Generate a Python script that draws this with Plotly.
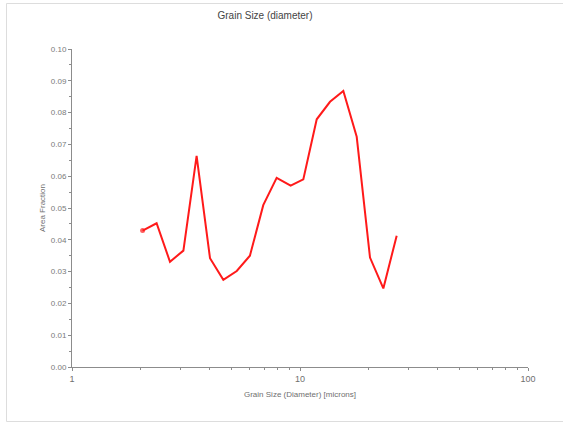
import plotly.graph_objects as go

grain_size = [2.04, 2.35, 2.69, 3.08, 3.52, 4.03, 4.61, 5.28, 6.03, 6.90,
              7.90, 9.10, 10.34, 11.84, 13.54, 15.49, 17.73, 20.28, 23.2, 26.55]
area_fraction = [0.0429, 0.0452, 0.0331, 0.0366, 0.0664, 0.0342, 0.0274, 0.0302, 0.0350, 0.0509,
                 0.0595, 0.0570, 0.0590, 0.0779, 0.0834, 0.0868, 0.0724, 0.0344, 0.0247, 0.0413]
y_ticks = [0.00, 0.01, 0.02, 0.03, 0.04, 0.05, 0.06, 0.07, 0.08, 0.09, 0.10]
y_tick_text = ["0.00", "0.01", "0.02", "0.03", "0.04", "0.05", "0.06", "0.07", "0.08", "0.09", "0.10"]
x_ticks = [1, 10, 100]
x_minor = [2, 3, 4, 5, 6, 7, 8, 9, 20, 30, 40, 50, 60, 70, 80, 90]
y_minor = [0.005, 0.015, 0.025, 0.035, 0.045, 0.055, 0.065, 0.075, 0.085, 0.095]

W, H = 563, 423
L, R, T, B = 72, 35, 49, 56
pw, ph = W - L - R, H - T - B

def px(x):
    return (x - L) / pw

def py(y):
    return (H - B - y) / ph

marker_sizes = [5] + [0] * (len(grain_size) - 1)

fig = go.Figure()
fig.add_trace(go.Scatter(
    x=grain_size, y=area_fraction, mode="lines+markers",
    line=dict(color="#ff1a1a", width=2),
    marker=dict(color="#ff1a1a", size=marker_sizes, line=dict(width=0)),
    hoverinfo="x+y", showlegend=False,
))

axis_col = "#8c8c8c"
border = dict(color="#dddddd", width=1)
fig.update_layout(
    width=W, height=H,
    margin=dict(l=L, r=R, t=T, b=B),
    paper_bgcolor="white", plot_bgcolor="white",
    font=dict(family="Liberation Sans, Arial, sans-serif", color="#777777", size=8),
    title=dict(text="Grain Size (diameter)", x=265 / W, xanchor="center",
               y=1 - 15 / H, yanchor="middle",
               font=dict(size=10, color="#444444")),
    xaxis=dict(
        type="log", range=[0, 2], showgrid=False, zeroline=False,
        showline=True, linecolor=axis_col, linewidth=1,
        tickmode="array", tickvals=x_ticks, ticktext=["1", "10", "100"],
        ticks="outside", ticklen=3, tickcolor=axis_col,
        minor=dict(tickmode="array", tickvals=x_minor, ticks="outside", ticklen=2, tickcolor=axis_col),
        tickfont=dict(size=9, color="#6f6f6f"),
        title=dict(text="Grain Size (Diameter) [microns]", standoff=8,
                   font=dict(size=8, color="#6f6f6f")),
    ),
    yaxis=dict(
        range=[0, 0.1], showgrid=False, zeroline=False,
        showline=True, linecolor=axis_col, linewidth=1,
        tickmode="array", tickvals=y_ticks, ticktext=y_tick_text,
        ticks="outside", ticklen=3, tickcolor=axis_col,
        minor=dict(tickmode="array", tickvals=y_minor, ticks="outside", ticklen=2, tickcolor=axis_col),
        tickfont=dict(size=8, color="#7a7a7a"),
        title=dict(text="Area Fraction", standoff=4,
                   font=dict(size=8, color="#6f6f6f")),
    ),
    shapes=[
        dict(type="line", xref="paper", yref="paper", x0=px(6.5), x1=px(563), y0=py(3.5), y1=py(3.5), line=border, layer="below"),
        dict(type="line", xref="paper", yref="paper", x0=px(6.5), x1=px(6.5), y0=py(3.5), y1=py(421.5), line=border, layer="below"),
        dict(type="line", xref="paper", yref="paper", x0=px(6.5), x1=px(563), y0=py(421.5), y1=py(421.5), line=border, layer="below"),
    ],
)

fig.write_html("out.html", config={"displayModeBar": False},
               post_script="document.body.style.margin='0';document.body.style.overflow='hidden';"
                           "document.documentElement.style.overflow='hidden';")
